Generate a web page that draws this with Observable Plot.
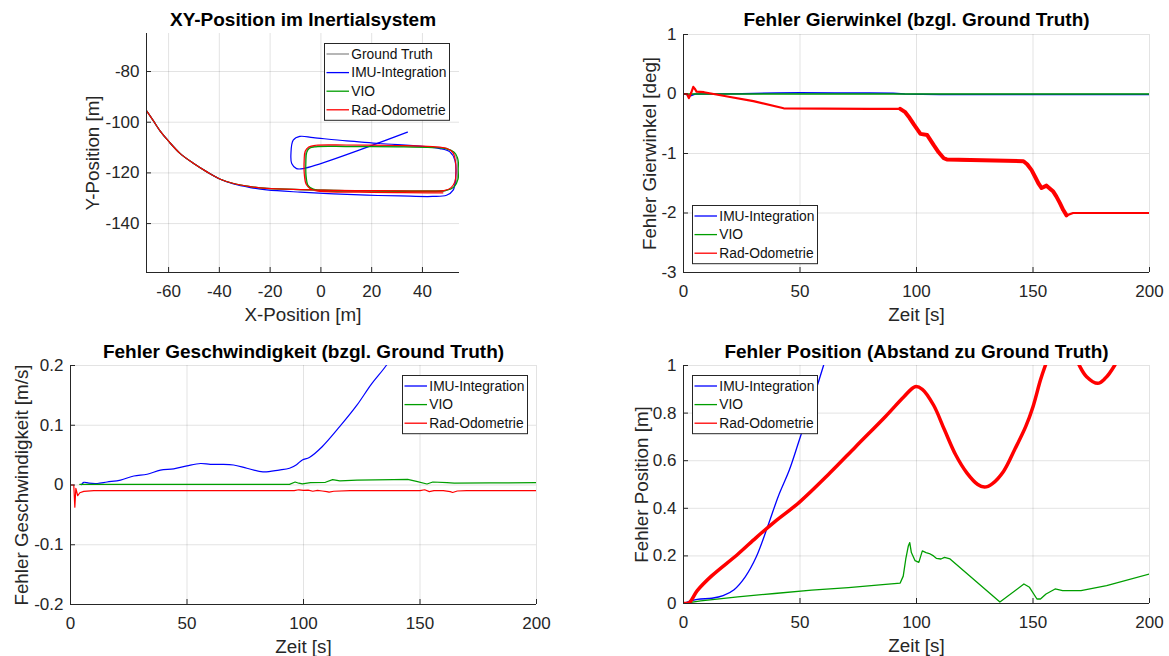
<!DOCTYPE html>
<html><head><meta charset="utf-8">
<script src="https://cdn.jsdelivr.net/npm/d3@7"></script>
<script src="https://cdn.jsdelivr.net/npm/@observablehq/plot@0.6"></script>
<style>
body{margin:0;background:#fff;}
#fig{position:relative;width:1169px;height:656px;overflow:hidden;background:#fff;font-family:"Liberation Sans",Arial,Helvetica,sans-serif;}
#fig > div, #fig > svg{position:absolute;}
#fig svg{overflow:visible;}
</style></head><body><div id="fig"></div>
<script>
// ---------- Data ----------
const seriesNames = ["Ground Truth", "IMU-Integration", "VIO", "Rad-Odometrie"];
const seriesColors = ["#8f8f8f", "#0000ff", "#009e00", "#ff0000"];

// Panel 1: XY position
const xyTicksX = [-60, -40, -20, 0, 20, 40];
const xyTicksY = [-140, -120, -100, -80];
const gtX = [-68.8,-65.9,-63.3,-60.0,-55.4,-50.1,-44.9,-39.6,-34.4,-27.8,-21.3,-8.1,5,18.1,31.2,44,49,52.3,53.6,53.8,53.4,52.2,49.5,44,30,10,-2,-4.6,-5.9,-6.2,-6.1,-5.4,-3.5,0,15,30,42,48.2];
const gtY = [-95.3,-99.6,-103.5,-107.5,-112.4,-116.3,-119.6,-122.5,-124.2,-125.4,-126.1,-126.6,-126.9,-127.1,-127.3,-127.4,-127.0,-125.5,-122.5,-118,-114,-111.8,-110.4,-109.8,-109.5,-109.4,-109.5,-110.1,-111.8,-115.3,-121.3,-124.8,-126.4,-127.1,-127.3,-127.4,-127.4,-127.4];
const imuX = [-68.8,-65.9,-63.3,-60.0,-55.4,-50.1,-44.9,-39.6,-34.4,-27.8,-21.3,-8.1,5,18.1,31.2,44,49.5,52.1,53.1,52.8,50.8,46.9,23.2,10.1,-3,-8.3,-10.9,-11.8,-11.5,-9.6,-7,34.1];
const imuY = [-95.3,-99.6,-103.5,-107.5,-112.4,-116.3,-119.6,-122.5,-124.4,-125.8,-126.7,-127.6,-128.3,-128.8,-129.1,-129.3,-128.8,-126.8,-121.6,-115,-111.7,-110.4,-108.4,-107.4,-106.1,-105.6,-107.1,-112.4,-116.3,-118.3,-118.3,-103.9];
const vioX = [-68.8,-65.9,-63.3,-60.0,-55.4,-50.1,-44.9,-39.6,-34.4,-27.8,-21.3,-8.1,5,18.1,31.2,44,49,52.5,54.0,54.3,53.8,52.5,49.5,44,30,10,-2,-4.5,-5.6,-5.9,-5.8,-5.0,-3,0,15,30,42,48.2];
const vioY = [-95.3,-99.6,-103.5,-107.5,-112.4,-116.3,-119.6,-122.5,-124.2,-125.4,-126.1,-126.6,-126.9,-127.1,-127.3,-127.4,-127.0,-125.5,-122.5,-118,-114,-111.8,-110.5,-110.0,-109.7,-109.6,-109.7,-110.3,-112,-115.5,-121.5,-125,-126.4,-127.0,-127.1,-127.1,-127.1,-127.1];
const radX = [-68.8,-65.9,-63.3,-60.0,-55.4,-50.1,-44.9,-39.6,-34.4,-27.8,-21.3,-8.1,5,18.1,31.2,44,48.5,51.3,52.8,53.2,53.0,52.0,49.5,44,30,10,-2,-4.8,-6.2,-6.6,-6.5,-5.8,-4,0,15,30,42,48];
const radY = [-95.3,-99.6,-103.5,-107.5,-112.4,-116.3,-119.6,-122.5,-124.2,-125.4,-126.1,-126.6,-126.9,-127.0,-127.1,-127.2,-127.0,-125.8,-123.5,-120,-115.5,-112,-110.3,-109.6,-109.2,-109.0,-109.1,-109.8,-111.5,-115,-121,-124.5,-126.4,-127.3,-127.6,-127.8,-127.9,-127.9];

// Panel 2: yaw error [deg]
const timeTicks = [0, 50, 100, 150, 200];
const yawTicks = [-3, -2, -1, 0, 1];
const yawImuT = [0,1.5,3,5,10,25,40,50,65,80,90,95,110,140,170,200];
const yawImuV = [0,-0.01,-0.03,0,0,0.005,0.015,0.02,0.017,0.015,0.012,0.0,-0.008,-0.01,-0.008,-0.01];
const yawVioT = [0,200];
const yawVioV = [0.002,0.002];
const yawRadT = [0,1.5,2.3,3.3,4.2,5,5.6,8.8,20,30,43,60,80,93,95,97,99,101.7,104.6,107.4,109.5,111.7,113,120,135,145.9,147.5,149.4,151,152.3,153.7,155.8,158.7,160,161.5,163,164.4,167.2,175,200];
const yawRadV = [0,0,-0.07,0.02,0.12,0.08,0.04,0.03,-0.05,-0.12,-0.24,-0.245,-0.25,-0.25,-0.3,-0.4,-0.52,-0.67,-0.69,-0.86,-0.98,-1.08,-1.1,-1.11,-1.12,-1.13,-1.18,-1.28,-1.4,-1.5,-1.58,-1.54,-1.64,-1.72,-1.83,-1.95,-2.04,-2.0,-2.0,-2.0];
// time windows in which the odometry yaw error is visibly noisy (drawn thicker)
const yawNoisyWindows = [[93, 114], [145, 166]];

// Panel 3: velocity error [m/s]
const velTicks = [-0.2, -0.1, 0, 0.1, 0.2];
const velImuT = [4.7,5.7,7.9,11.5,15.7,21.5,27.2,32.9,38.6,44.3,50,55.8,60,64.4,70,75.7,82.6,89.5,94,97,99.5,102.5,108,115.6,123,129,135.5,142];
const velImuV = [0.0005,0.0045,0.003,0.0025,0.005,0.0083,0.015,0.018,0.025,0.027,0.032,0.036,0.0345,0.0345,0.0335,0.028,0.022,0.025,0.028,0.034,0.042,0.046,0.064,0.098,0.134,0.168,0.2,0.24];
const velVioT = [4,20,60,94,96.4,98,99.5,103,109.4,112.5,115.6,123,138.6,144.7,148.5,153,155.5,161.6,164.7,180,200];
const velVioV = [0.001,0.001,0.001,0.001,0.005,0.003,0.002,0.004,0.0045,0.009,0.007,0.008,0.009,0.0095,0.006,0.0017,0.005,0.004,0.003,0.0035,0.004];
const velRadT = [0,1.4,1.86,2.3,3.1,4.0,5.7,10,50,96,98,100,102,104,106,108,110,111,113,120,150,152,154,156,160,163,164,166,170,200];
const velRadV = [0,0,-0.037,-0.0055,-0.018,-0.013,-0.0106,-0.0095,-0.0095,-0.0095,-0.008,-0.009,-0.0085,-0.0105,-0.009,-0.01,-0.011,-0.012,-0.0105,-0.0095,-0.0095,-0.008,-0.011,-0.0095,-0.0095,-0.011,-0.0125,-0.01,-0.0095,-0.0095];

// Panel 4: position error [m]
const posTicks = [0, 0.2, 0.4, 0.6, 0.8, 1];
const posImuT = [0,5.9,12.2,17,21.7,26.5,31.2,36,40.7,45.5,50.2,55,60.1,65];
const posImuV = [0,0.017,0.022,0.033,0.058,0.112,0.195,0.32,0.451,0.563,0.702,0.841,1.0,1.16];
const posVioT = [0,7.4,23.3,39.1,55,70.8,86.7,93,94.3,95.4,96.5,97.1,97.8,99.4,101,102.5,104.1,105.5,107.3,108.5,110.5,112,114.4,135.8,146.1,148.5,151.7,153.2,155.6,159.5,162.7,170.6,181.6,200];
const posVioV = [0,0.011,0.028,0.042,0.056,0.067,0.08,0.086,0.115,0.187,0.242,0.256,0.214,0.18,0.173,0.221,0.214,0.21,0.2,0.19,0.187,0.194,0.187,0.006,0.082,0.068,0.019,0.019,0.04,0.061,0.054,0.054,0.075,0.124];
const posRadT = [0,2.4,5.9,12.2,23.3,31.2,39.1,49.8,62.9,74,86.7,94.6,99.4,102.5,107.3,112,116.8,121.6,126.3,129.2,132.6,137.4,142.1,146.9,150,153.2,155.3,160,165,169.9,173,177.8,181,185,190];
const posRadV = [0,0.003,0.054,0.117,0.207,0.277,0.343,0.426,0.549,0.66,0.786,0.869,0.911,0.9,0.834,0.73,0.625,0.549,0.5,0.489,0.504,0.556,0.646,0.744,0.827,0.939,1.0,1.12,1.12,1.0,0.953,0.925,0.946,1.0,1.1];

// ---------- Rendering ----------
const INK = "#262626";
const FONT = '"Liberation Sans", Arial, Helvetica, sans-serif';
const fig = document.getElementById("fig");
const rows = (xs, ys) => xs.map((x, i) => ({x, y: ys[i]}));
const fmt = d => String(d);

function panel(o) {
  const fw = o.width - o.ml - o.mr, fh = o.height - o.mt - o.mb;
  const marks = [
    Plot.gridX(o.xTicks, {stroke: INK, strokeOpacity: 0.13, strokeWidth: 1}),
    Plot.gridY(o.yTicks, {stroke: INK, strokeOpacity: 0.13, strokeWidth: 1}),
    ...o.series.map(s => Plot.line(rows(s.x, s.y), {x: "x", y: "y", stroke: s.color, strokeWidth: s.w, curve: s.curve || "linear", clip: true, filter: s.filter})),
    Plot.ruleX([o.xDomain[0]], {stroke: INK, strokeWidth: 1}),
    Plot.ruleY([o.yDomain[0]], {stroke: INK, strokeWidth: 1}),
    Plot.tickX(o.xTicks, {x: d => d, stroke: INK, insetTop: fh - 5}),
    Plot.tickY(o.yTicks, {y: d => d, stroke: INK, insetRight: fw - 5}),
    Plot.axisX(o.xTicks, {anchor: "bottom", tickSize: 0, tickPadding: 12, tickFormat: fmt, fontSize: 17, label: null}),
    Plot.axisY(o.yTicks, {anchor: "left", tickSize: 0, tickPadding: 7, tickFormat: fmt, fontSize: 17, label: null}),
    Plot.text([o.title], {text: d => d, frameAnchor: "top", textAnchor: "middle", lineAnchor: "bottom", dy: o.titleDy, fontSize: 19, fontWeight: "bold", fill: "#000"}),
    Plot.text([o.xLabel], {text: d => d, frameAnchor: "bottom", textAnchor: "middle", lineAnchor: "bottom", dy: 48, fontSize: 18.8, fill: INK}),
    Plot.text([o.yLabel], {text: d => d, frameAnchor: "left", textAnchor: "middle", lineAnchor: "bottom", rotate: -90, dx: o.yLabelDx, fontSize: 18.8, fill: INK})
  ];
  const chart = Plot.plot({
    width: o.width, height: o.height,
    marginLeft: o.ml, marginRight: o.mr, marginTop: o.mt, marginBottom: o.mb,
    x: {domain: o.xDomain}, y: {domain: o.yDomain},
    style: {fontFamily: FONT, fontSize: "17px", color: INK, background: "transparent", overflow: "visible"},
    marks
  });
  chart.style.position = "absolute";
  chart.style.left = o.left + "px";
  chart.style.top = o.top + "px";
  fig.appendChild(chart);
}

function legend(idx, left, top) {
  const w = 125, h = 11 + 18.6 * (idx.length - 1) + 10;
  const svg = d3.select(fig).append("svg")
    .attr("width", w + 1).attr("height", h + 1)
    .style("position", "absolute").style("left", left + "px").style("top", top + "px")
    .style("font-family", FONT);
  svg.append("rect").attr("x", 0.5).attr("y", 0.5).attr("width", w).attr("height", h)
    .attr("fill", "#fff").attr("stroke", INK).attr("stroke-width", 1);
  idx.forEach((k, i) => {
    const y = 11 + 18.6 * i;
    svg.append("line").attr("x1", 2.5).attr("x2", 25).attr("y1", y).attr("y2", y)
      .attr("stroke", seriesColors[k]).attr("stroke-width", 1.3);
    svg.append("text").attr("x", 27.3).attr("y", y).attr("dy", "0.35em")
      .attr("font-size", 13.8).attr("fill", "#111").text(seriesNames[k]);
  });
}

const inWindows = (wins) => (d) => wins.some(([a, b]) => d.x >= a && d.x <= b);

panel({
  left: 0, top: 0, width: 584, height: 328, ml: 146, mr: 125, mt: 33, mb: 56,
  xDomain: [-68.7, 54.6], yDomain: [-159.3, -65], xTicks: xyTicksX, yTicks: xyTicksY,
  title: "XY-Position im Inertialsystem", titleDy: -7.5,
  xLabel: "X-Position [m]", yLabel: "Y-Position [m]", yLabelDx: -48,
  series: [
    {x: gtX, y: gtY, color: seriesColors[0], w: 1.2, curve: "catmull-rom"},
    {x: imuX, y: imuY, color: seriesColors[1], w: 1.2, curve: "catmull-rom"},
    {x: vioX, y: vioY, color: seriesColors[2], w: 1.2, curve: "catmull-rom"},
    {x: radX, y: radY, color: seriesColors[3], w: 1.2, curve: "catmull-rom"}
  ]
});
legend([0, 1, 2, 3], 324, 43);

panel({
  left: 584, top: 0, width: 585, height: 328, ml: 99, mr: 20, mt: 34, mb: 56,
  xDomain: [0, 200], yDomain: [-3, 1], xTicks: timeTicks, yTicks: yawTicks,
  title: "Fehler Gierwinkel (bzgl. Ground Truth)", titleDy: -8.5,
  xLabel: "Zeit [s]", yLabel: "Fehler Gierwinkel [deg]", yLabelDx: -28,
  series: [
    {x: yawImuT, y: yawImuV, color: seriesColors[1], w: 1.5},
    {x: yawVioT, y: yawVioV, color: seriesColors[2], w: 1.5},
    {x: yawRadT, y: yawRadV, color: seriesColors[3], w: 2.2},
    {x: yawRadT, y: yawRadV, color: seriesColors[3], w: 4, filter: inWindows(yawNoisyWindows)}
  ]
});
legend([1, 2, 3], 692, 204.5);

panel({
  left: 0, top: 328, width: 584, height: 328, ml: 70, mr: 48, mt: 37, mb: 52,
  xDomain: [0, 200], yDomain: [-0.2, 0.2], xTicks: timeTicks, yTicks: velTicks,
  title: "Fehler Geschwindigkeit (bzgl. Ground Truth)", titleDy: -8,
  xLabel: "Zeit [s]", yLabel: "Fehler Geschwindigkeit [m/s]", yLabelDx: -43,
  series: [
    {x: velImuT, y: velImuV, color: seriesColors[1], w: 1.2, curve: "catmull-rom"},
    {x: velVioT, y: velVioV, color: seriesColors[2], w: 1.2},
    {x: velRadT, y: velRadV, color: seriesColors[3], w: 1.2}
  ]
});
legend([1, 2, 3], 401.5, 374.5);

panel({
  left: 584, top: 328, width: 585, height: 328, ml: 99, mr: 20, mt: 37, mb: 53,
  xDomain: [0, 200], yDomain: [0, 1], xTicks: timeTicks, yTicks: posTicks,
  title: "Fehler Position (Abstand zu Ground Truth)", titleDy: -8,
  xLabel: "Zeit [s]", yLabel: "Fehler Position [m]", yLabelDx: -36,
  series: [
    {x: posImuT, y: posImuV, color: seriesColors[1], w: 1.3, curve: "catmull-rom"},
    {x: posVioT, y: posVioV, color: seriesColors[2], w: 1.3},
    {x: posRadT, y: posRadV, color: seriesColors[3], w: 3.5, curve: "catmull-rom"}
  ]
});
legend([1, 2, 3], 692, 375);
</script></body></html>
